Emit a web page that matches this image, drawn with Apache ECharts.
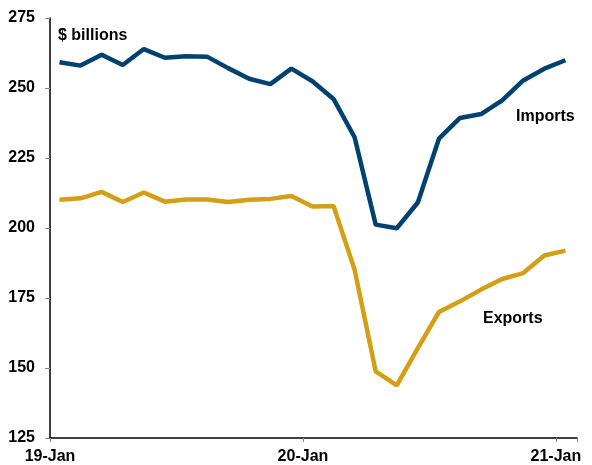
<!DOCTYPE html>
<html><head><meta charset="utf-8">
<script src="https://cdn.jsdelivr.net/npm/echarts@6/dist/echarts.min.js"></script>
<style>html,body{margin:0;padding:0;background:#fff}#c{width:592px;height:465px}</style>
</head><body><div id="c"></div>
<script>
// month index 0 = Jan 2019 ... 24 = Jan 2021
const months = Array.from({length:25},(_,i)=>i);
const imports = [259.2,258.0,261.9,258.2,263.9,260.8,261.3,261.2,257.1,253.3,251.4,256.9,252.4,246.1,232.4,201.2,199.9,209.1,231.9,239.3,240.7,245.6,252.7,256.9,259.9];
const exports_ = [210.1,210.6,212.9,209.3,212.7,209.4,210.2,210.2,209.3,210.1,210.4,211.4,207.7,207.9,185.1,148.8,143.8,157.1,170.0,173.8,178.0,181.8,183.9,190.2,191.9];
const xTickLabels = {0:'19-Jan',12:'20-Jan',24:'21-Jan'};
const midMonth = 0.45;

const chart = echarts.init(document.getElementById('c'));
const font = 'Liberation Sans, Arial, sans-serif';
chart.setOption({
  animation:false,
  grid:{left:50,right:15,top:18,bottom:27,containLabel:false},
  xAxis:{type:'value',min:0,max:25,interval:12,
    axisLine:{show:true,lineStyle:{color:'#000',width:1.5}},
    axisTick:{show:true,length:4,lineStyle:{color:'#888'}},
    splitLine:{show:false},
    axisLabel:{margin:11,color:'#000',fontWeight:'bold',fontSize:16,fontFamily:font,
      formatter:v=>xTickLabels[v]||''}},
  yAxis:{type:'value',min:125,max:275,interval:25,
    axisLine:{show:true,lineStyle:{color:'#000',width:1.5}},
    axisTick:{show:true,length:5,lineStyle:{color:'#888'}},
    splitLine:{show:false},
    axisLabel:{margin:15,color:'#000',fontWeight:'bold',fontSize:16,fontFamily:font}},
  series:[
    {type:'line',name:'Imports',data:months.map((m,i)=>[m+midMonth,imports[i]]),showSymbol:false,
     lineStyle:{color:'#00426f',width:4.5},itemStyle:{color:'#00426f'}},
    {type:'line',name:'Exports',data:months.map((m,i)=>[m+midMonth,exports_[i]]),showSymbol:false,
     lineStyle:{color:'#d49f15',width:4.5},itemStyle:{color:'#d49f15'}}
  ],
  graphic:[
    {type:'text',left:58,top:28,style:{text:'$ billions',fill:'#000',font:'bold 16px '+font}},
    {type:'text',left:516,top:109,style:{text:'Imports',fill:'#000',font:'bold 16px '+font}},
    {type:'text',left:483,top:311,style:{text:'Exports',fill:'#000',font:'bold 16px '+font}}
  ]
});
</script></body></html>
